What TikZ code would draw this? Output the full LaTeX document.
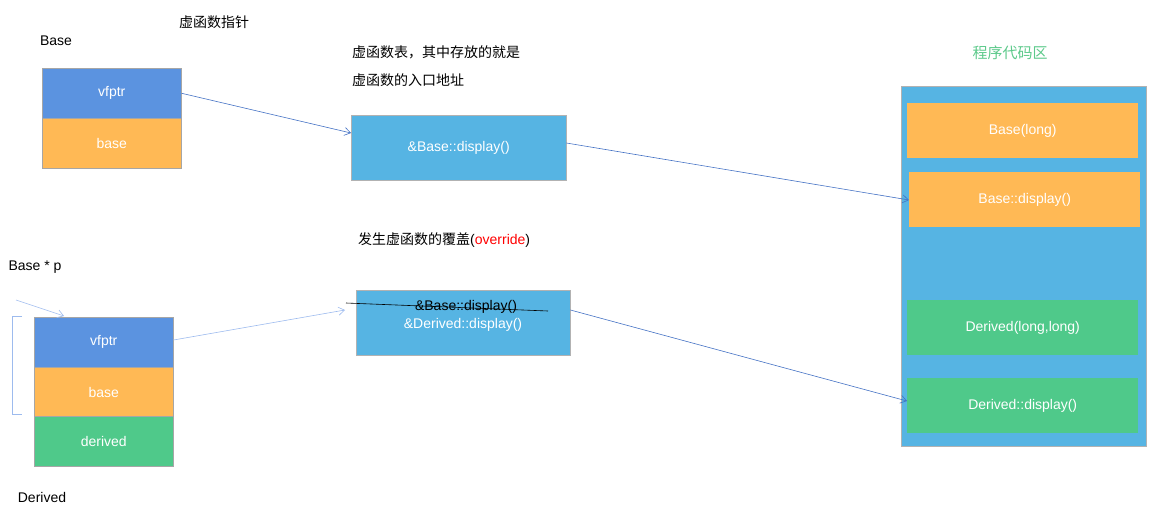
\documentclass[tikz,border=0pt]{standalone}
\usepackage{fontspec}
\setmainfont{Liberation Sans}
\newfontfamily\cjk{Noto Sans CJK SC}
\usetikzlibrary{arrows.meta}
\definecolor{vblue}{HTML}{5B93E0}
\definecolor{vorange}{HTML}{FFB955}
\definecolor{vgreen}{HTML}{4FC98A}
\definecolor{tblue}{HTML}{56B4E3}
\definecolor{lblue}{HTML}{9DBBEE}
\definecolor{aline}{HTML}{4472C4}
\definecolor{cgreen}{HTML}{5CC98A}
\tikzset{
 cell/.style={draw=black!35,line width=0.5pt,minimum width=139pt,minimum height=50pt,inner sep=0,text=white,font=\fontsize{14}{16}\selectfont},
 code/.style={draw=none,minimum width=231pt,minimum height=55pt,inner sep=0,text=white,font=\fontsize{14}{16}\selectfont},
 lbl/.style={font=\fontsize{14}{16}\selectfont,inner sep=0},
 arr/.style={-{Straight Barb[length=6pt,width=8pt]},aline,line width=0.6pt},
 larr/.style={-{Straight Barb[length=6pt,width=8pt]},lblue,line width=0.6pt}
}
\begin{document}
\begin{tikzpicture}[x=1pt,y=-1pt]
\useasboundingbox (0,0) rectangle (1155,509);
% top-left
\node[lbl] (tbase) at (56,41) {Base};
\node[lbl] (tvp) at (214,22) {\cjk 虚函数指针};
\node[cell,fill=vblue,anchor=north west] (v1) at (42,68) {vfptr};
\node[cell,fill=vorange,anchor=north west] (b1) at (42,118) {base};
\node[lbl,anchor=west] (t1) at (352,52) {\cjk 虚函数表，其中存放的就是};
\node[lbl,anchor=west] (t2) at (352,80) {\cjk 虚函数的入口地址};
\node[draw=black!30,fill=tblue,minimum width=215pt,minimum height=65pt,inner sep=0,anchor=north west,text=white,font=\fontsize{14}{16}\selectfont] (vt1) at (351,115) {\&Base::display()};
% code area
\node[font=\fontsize{15}{18}\selectfont\cjk,text=cgreen,inner sep=0] (tcode) at (1010,53) {程序代码区};
\node[draw=black!30,fill=tblue,minimum width=245pt,minimum height=360pt,inner sep=0,anchor=north west] (area) at (901,86) {};
\node[code,fill=vorange,anchor=north west] (c1) at (907,103) {Base(long)};
\node[code,fill=vorange,anchor=north west] (c2) at (909,172) {Base::display()};
\node[code,fill=vgreen,anchor=north west] (c3) at (907,300) {Derived(long,long)};
\node[code,fill=vgreen,anchor=north west] (c4) at (907,378) {Derived::display()};
% bottom
\node[lbl,anchor=west] (t3) at (358,240) {{\cjk 发生虚函数的覆盖}(\textcolor{red}{override})};
\node[lbl] (tp) at (35,267) {Base * p};
\node[cell,fill=vblue,anchor=north west] (v2) at (34,317) {vfptr};
\node[cell,fill=vorange,anchor=north west] (b2) at (34,367) {base};
\node[cell,fill=vgreen,anchor=north west] (d2) at (34,416) {derived};
\node[lbl] (td) at (42,497) {Derived};
\node[draw=black!30,fill=tblue,minimum width=214pt,minimum height=65pt,inner sep=0,anchor=north west] (vt2) at (356,290) {};
\node[lbl] (s1) at (466,307) {\&Base::display()};
\node[lbl,text=white] (s2) at (463,325) {\&Derived::display()};
\coordinate (k1) at (346,303);
\coordinate (k2) at (548,311);
\draw[black,line width=0.6pt] (k1) -- (k2);
% bracket
\coordinate (p0) at (16,300);
\coordinate (p1) at (64,316);
\draw[larr] (p0) -- (p1);
\draw[lblue,line width=0.8pt] (22,316) -- (12,316) -- (12,414) -- (22,414);
% arrows
\draw[arr] (v1.east) -- (vt1.west |- 0,133);
\draw[arr] (vt1.east |- 0,143) -- (c2.west |- 0,200);
\draw[larr] (v2.east |- 0,340) -- (345,310);
\draw[arr] (vt2.east |- 0,310) -- (c4.west |- 0,401);
\end{tikzpicture}
\end{document}
